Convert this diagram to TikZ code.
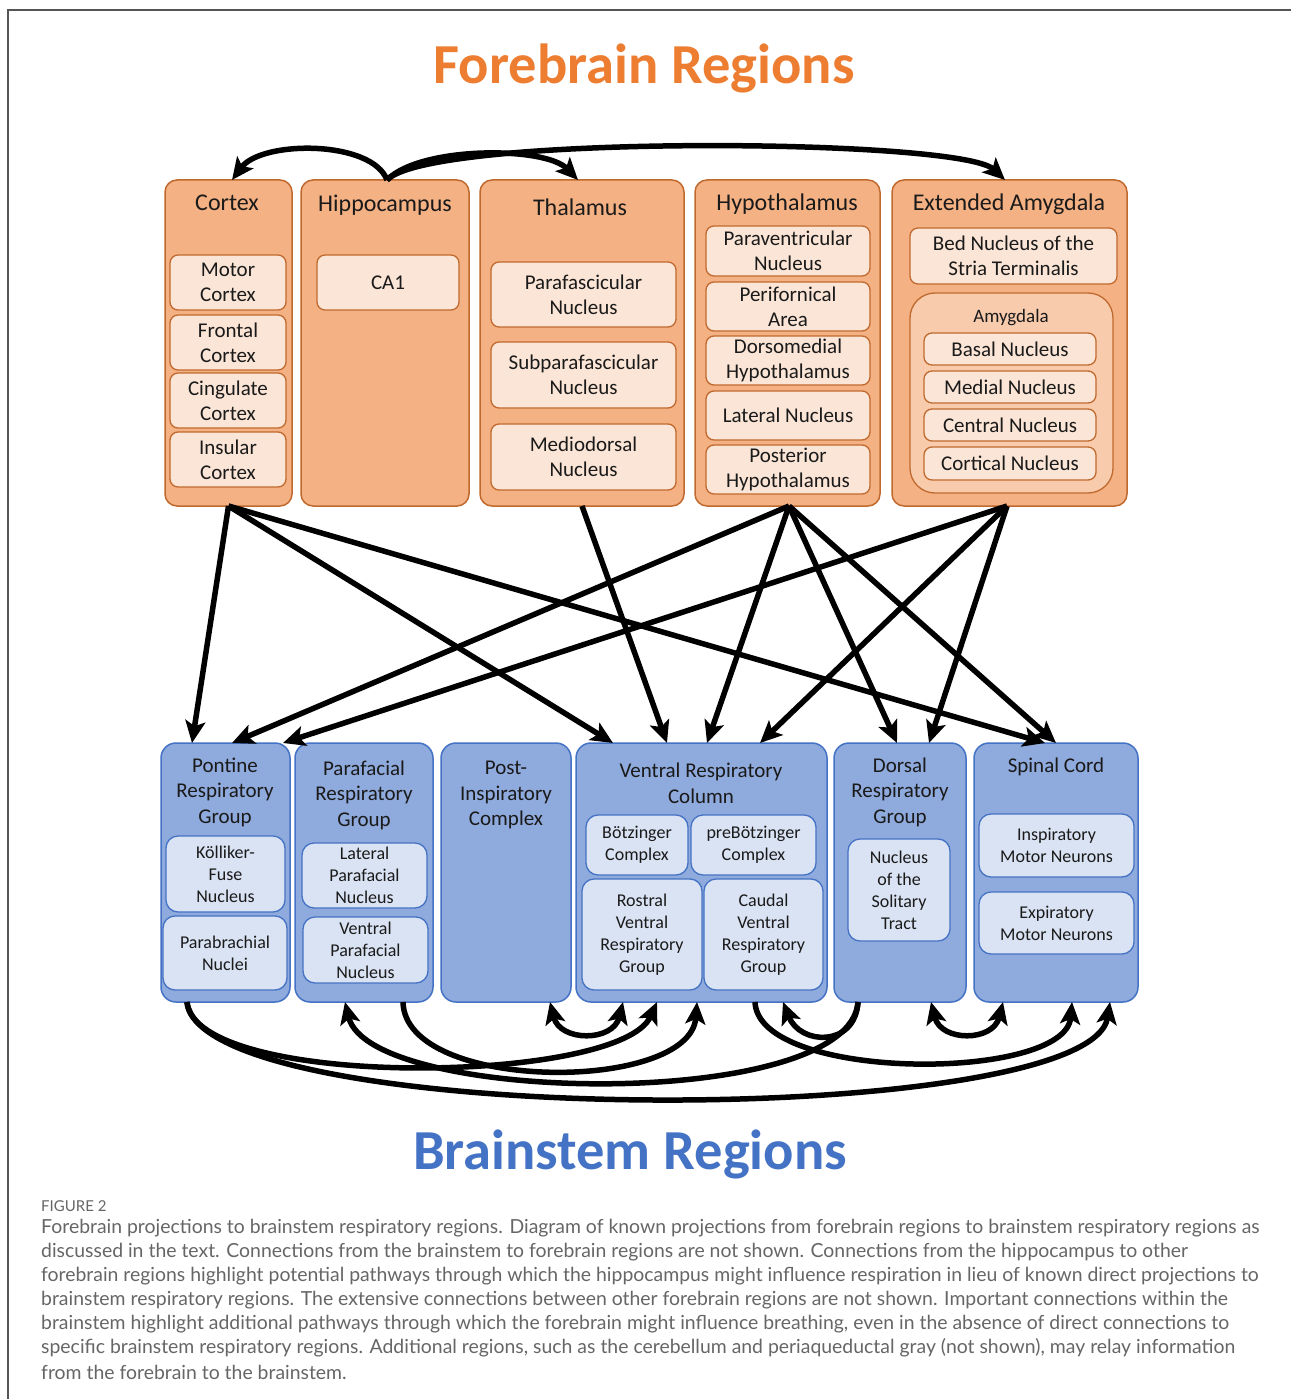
\documentclass[tikz,border=0pt]{standalone}
\usepackage{fontspec}
\setmainfont{Carlito}
\newfontfamily\capfont{Lato}
\usetikzlibrary{arrows.meta}
\definecolor{fbfill}{HTML}{F4B183}
\definecolor{fbline}{HTML}{C0692E}
\definecolor{fbsubfill}{HTML}{FBE5D6}
\definecolor{amyfill}{HTML}{F8CBAD}
\definecolor{bsfill}{HTML}{8FAADC}
\definecolor{bsline}{HTML}{4472C4}
\definecolor{bssubfill}{HTML}{DAE3F3}
\definecolor{fbtitle}{HTML}{ED7D31}
\definecolor{bstitle}{HTML}{4472C4}
\definecolor{capgray}{HTML}{666666}
\definecolor{framegray}{HTML}{555555}
\definecolor{boxtext}{HTML}{1A1A1A}
\begin{document}
\begin{tikzpicture}[x=1pt,y=-1pt,
  fbbox/.style={draw=fbline, fill=fbfill, line width=1.5pt, rounded corners=12pt, inner sep=0pt, outer sep=0pt},
  fbsub/.style={draw=fbline, fill=fbsubfill, line width=1.3pt, rounded corners=8pt, inner sep=0pt, outer sep=0pt, align=center, text=boxtext, font=\fontsize{21}{25}\selectfont},
  amybox/.style={draw=fbline, fill=amyfill, line width=1.3pt, rounded corners=25pt, inner sep=0pt, outer sep=0pt},
  bsbox/.style={draw=bsline, fill=bsfill, line width=1.5pt, rounded corners=15pt, inner sep=0pt, outer sep=0pt},
  bssub/.style={draw=bsline, fill=bssubfill, line width=1.3pt, rounded corners=12pt, inner sep=0pt, outer sep=0pt, align=center, text=boxtext, font=\fontsize{18}{22}\selectfont},
  fbhead/.style={inner sep=0pt, text=boxtext, font=\fontsize{24}{28}\selectfont},
  bshead/.style={inner sep=0pt, align=center, text=boxtext, font=\fontsize{21}{25.5}\selectfont},
  arr/.style={line width=5.5pt, -{Stealth[length=22pt,width=20pt,inset=5pt]}},
  darr/.style={line width=5.5pt, {Stealth[length=22pt,width=20pt,inset=5pt]}-{Stealth[length=22pt,width=20pt,inset=5pt]}},
  capline/.style={anchor=west, inner sep=0pt, text=capgray, font=\capfont\fontsize{19.4}{24}\selectfont}
]
\useasboundingbox (0,0) rectangle (1291,1399);
\fill[white] (0,0) rectangle (1291,1399);
\draw[framegray, line width=1.2pt] (8,1399) -- (8,10) -- (1291,10);

% titles
\node[text=fbtitle, font=\bfseries\fontsize{56.5}{60}\selectfont, inner sep=0pt] (fbt) at (644,68) {Forebrain Regions};
\node[text=bstitle, font=\bfseries\fontsize{56.5}{60}\selectfont, inner sep=0pt] (bst) at (630,1154) {Brainstem Regions};

% forebrain boxes
\node[fbbox, minimum width=127pt, minimum height=326pt] (cortex) at (228.5,343) {};
\node[fbbox, minimum width=168pt, minimum height=326pt] (hippo) at (385,343) {};
\node[fbbox, minimum width=204pt, minimum height=326pt] (thal) at (582,343) {};
\node[fbbox, minimum width=185pt, minimum height=326pt] (hypo) at (787.5,343) {};
\node[fbbox, minimum width=235pt, minimum height=326pt] (ea) at (1009.5,343) {};

\node[fbhead] (cortexT) at (227,203) {Cortex};
\node[fbhead] (hippoT) at (385,205) {Hippocampus};
\node[fbhead] (thalT) at (580,207) {Thalamus};
\node[fbhead] (hypoT) at (787,204) {Hypothalamus};
\node[fbhead] (eaT) at (1009,204) {Extended Amygdala};

\node[fbsub, minimum width=116pt, minimum height=55pt] (motor) at (228,282.5) {Motor\\Cortex};
\node[fbsub, minimum width=116pt, minimum height=55pt] (frontal) at (228,342.5) {Frontal\\Cortex};
\node[fbsub, minimum width=116pt, minimum height=55pt] (cing) at (228,400.5) {Cingulate\\Cortex};
\node[fbsub, minimum width=116pt, minimum height=55pt] (insular) at (228,459.5) {Insular\\Cortex};

\node[fbsub, minimum width=142pt, minimum height=55pt] (ca1) at (388,282.5) {CA1};

\node[fbsub, minimum width=185pt, minimum height=65pt] (pf) at (583.5,294.5) {Parafascicular\\Nucleus};
\node[fbsub, minimum width=185pt, minimum height=66pt] (spf) at (583.5,375) {Subparafascicular\\Nucleus};
\node[fbsub, minimum width=185pt, minimum height=66pt] (md) at (583.5,457) {Mediodorsal\\Nucleus};

\node[fbsub, minimum width=164pt, minimum height=50pt] (pvn) at (788,251) {Paraventricular\\Nucleus};
\node[fbsub, minimum width=164pt, minimum height=49pt] (pfa) at (788,306.5) {Perifornical\\Area};
\node[fbsub, minimum width=164pt, minimum height=49pt] (dmh) at (788,360.5) {Dorsomedial\\Hypothalamus};
\node[fbsub, minimum width=164pt, minimum height=49pt] (lat) at (788,415.5) {Lateral Nucleus};
\node[fbsub, minimum width=164pt, minimum height=49pt] (ph) at (788,469.5) {Posterior\\Hypothalamus};

\node[fbsub, minimum width=207pt, minimum height=56pt] (bnst) at (1013.5,256) {Bed Nucleus of the\\Stria Terminalis};
\node[amybox, minimum width=203pt, minimum height=200pt] (amy) at (1011.5,393) {};
\node[inner sep=0pt, text=boxtext, font=\fontsize{19}{23}\selectfont] (amyT) at (1011,318) {Amygdala};
\node[fbsub, minimum width=172pt, minimum height=32pt] (basal) at (1010,349) {Basal Nucleus};
\node[fbsub, minimum width=172pt, minimum height=32pt] (medial) at (1010,387) {Medial Nucleus};
\node[fbsub, minimum width=172pt, minimum height=32pt] (central) at (1010,425) {Central Nucleus};
\node[fbsub, minimum width=172pt, minimum height=33pt] (cortical) at (1010,463.5) {Cortical Nucleus};

% brainstem boxes
\node[bsbox, minimum width=129pt, minimum height=259pt] (prg) at (225.5,872.5) {};
\node[bsbox, minimum width=138pt, minimum height=259pt] (pfrg) at (364,872.5) {};
\node[bsbox, minimum width=130pt, minimum height=259pt] (pic) at (506,872.5) {};
\node[bsbox, minimum width=251pt, minimum height=259pt] (vrc) at (701.5,872.5) {};
\node[bsbox, minimum width=132pt, minimum height=259pt] (drg) at (900,872.5) {};
\node[bsbox, minimum width=164pt, minimum height=259pt] (sc) at (1056,872.5) {};

\node[bshead] (prgT) at (225,792) {Pontine\\Respiratory\\Group};
\node[bshead] (pfrgT) at (364,795) {Parafacial\\Respiratory\\Group};
\node[bshead] (picT) at (506,795) {Post-\\Inspiratory\\Complex};
\node[bshead] (vrcT) at (701,783.5) {Ventral Respiratory\\Column};
\node[bshead] (drgT) at (900,792) {Dorsal\\Respiratory\\Group};
\node[bshead] (scT) at (1056,767) {Spinal Cord};

\node[bssub, minimum width=119pt, minimum height=76pt] (kf) at (225.5,874) {Kölliker-\\Fuse\\Nucleus};
\node[bssub, minimum width=124pt, minimum height=74pt] (pb) at (225,953) {Parabrachial\\Nuclei};
\node[bssub, minimum width=125pt, minimum height=65pt] (lpf) at (364.5,875.5) {Lateral\\Parafacial\\Nucleus};
\node[bssub, minimum width=125pt, minimum height=66pt] (vpf) at (365.5,950) {Ventral\\Parafacial\\Nucleus};
\node[bssub, minimum width=102pt, minimum height=60pt] (botc) at (637,845) {Bötzinger\\Complex};
\node[bssub, minimum width=125pt, minimum height=60pt] (prebotc) at (753.5,845) {preBötzinger\\Complex};
\node[bssub, minimum width=120pt, minimum height=111pt] (rvrg) at (642,934.5) {Rostral\\Ventral\\Respiratory\\Group};
\node[bssub, minimum width=119pt, minimum height=111pt] (cvrg) at (763.5,934.5) {Caudal\\Ventral\\Respiratory\\Group};
\node[bssub, minimum width=102pt, minimum height=102pt] (nts) at (899,890) {Nucleus\\of the\\Solitary\\Tract};
\node[bssub, minimum width=155pt, minimum height=63pt] (imn) at (1056.5,845.5) {Inspiratory\\Motor Neurons};
\node[bssub, minimum width=155pt, minimum height=62pt] (emn) at (1056.5,923) {Expiratory\\Motor Neurons};

% hippocampus arcs
\draw[arr] ([xshift=2pt]hippo.north) .. controls (372,140) and (262,140) .. ([xshift=3.5pt]cortex.north);
\draw[arr] ([xshift=2pt]hippo.north) .. controls (420,146) and (545,146) .. ([xshift=-4pt]thal.north);
\draw[arr] ([xshift=2pt]hippo.north) .. controls (430,134) and (960,138) .. ([xshift=-4.5pt]ea.north);

% forebrain -> brainstem
\draw[arr] (cortex.south) -- ([xshift=-33.5pt]prg.north);
\draw[arr] (cortex.south) -- ([xshift=-88.5pt]vrc.north);
\draw[arr] (cortex.south) -- ([xshift=-11pt]sc.north);
\draw[arr] (thal.south) -- ([xshift=-34.5pt]vrc.north);
\draw[arr] ([xshift=1.5pt]hypo.south) -- ([xshift=6.5pt]prg.north);
\draw[arr] ([xshift=1.5pt]hypo.south) -- ([xshift=5.5pt]vrc.north);
\draw[arr] ([xshift=1.5pt]hypo.south) -- ([xshift=-3pt]drg.north);
\draw[arr] ([xshift=1.5pt]hypo.south) -- ([xshift=0pt]sc.north);
\draw[arr] ([xshift=-2.5pt]ea.south) -- ([xshift=57.5pt]prg.north);
\draw[arr] ([xshift=-2.5pt]ea.south) -- ([xshift=58.5pt]vrc.north);
\draw[arr] ([xshift=-2.5pt]ea.south) -- ([xshift=29pt]drg.north);

% brainstem internal connections
\draw[arr] ([xshift=-38.5pt]prg.south) .. controls (195,1090) and (620,1085) .. ([xshift=-44.5pt]vrc.south);
\draw[arr] ([xshift=-38.5pt]prg.south) .. controls (200,1130) and (1090,1130) .. ([xshift=54pt]sc.south);
\draw[arr] ([xshift=39pt]pfrg.south) .. controls (405,1093) and (690,1093) .. ([xshift=-4.5pt]vrc.south);
\draw[arr] ([xshift=-42pt]drg.south) .. controls (850,1112) and (370,1105) .. ([xshift=-19pt]pfrg.south);
\draw[arr] ([xshift=-42pt]drg.south) .. controls (855,1048) and (800,1045) .. ([xshift=81.5pt]vrc.south);
\draw[arr] ([xshift=53.5pt]vrc.south) .. controls (758,1082) and (1065,1082) .. ([xshift=16pt]sc.south);
\draw[darr] ([xshift=44pt]pic.south) .. controls (560,1042) and (613,1042) .. ([xshift=-78.5pt]vrc.south);
\draw[darr] ([xshift=31pt]drg.south) .. controls (941,1042) and (993,1042) .. ([xshift=-53pt]sc.south);

% caption
\node[anchor=west, inner sep=0pt, text=capgray, font=\capfont\fontsize{15}{17}\selectfont] (figlab) at (41,1206) {FIGURE 2};
\node[capline] (c1) at (41,1228) {Forebrain projections to brainstem respiratory regions. Diagram of known projections from forebrain regions to brainstem respiratory regions as};
\node[capline] (c2) at (41,1252) {discussed in the text. Connections from the brainstem to forebrain regions are not shown. Connections from the hippocampus to other};
\node[capline] (c3) at (41,1276) {forebrain regions highlight potential pathways through which the hippocampus might influence respiration in lieu of known direct projections to};
\node[capline] (c4) at (41,1300) {brainstem respiratory regions. The extensive connections between other forebrain regions are not shown. Important connections within the};
\node[capline] (c5) at (41,1324) {brainstem highlight additional pathways through which the forebrain might influence breathing, even in the absence of direct connections to};
\node[capline] (c6) at (41,1348) {specific brainstem respiratory regions. Additional regions, such as the cerebellum and periaqueductal gray (not shown), may relay information};
\node[capline] (c7) at (41,1372) {from the forebrain to the brainstem.};
\end{tikzpicture}
\end{document}
